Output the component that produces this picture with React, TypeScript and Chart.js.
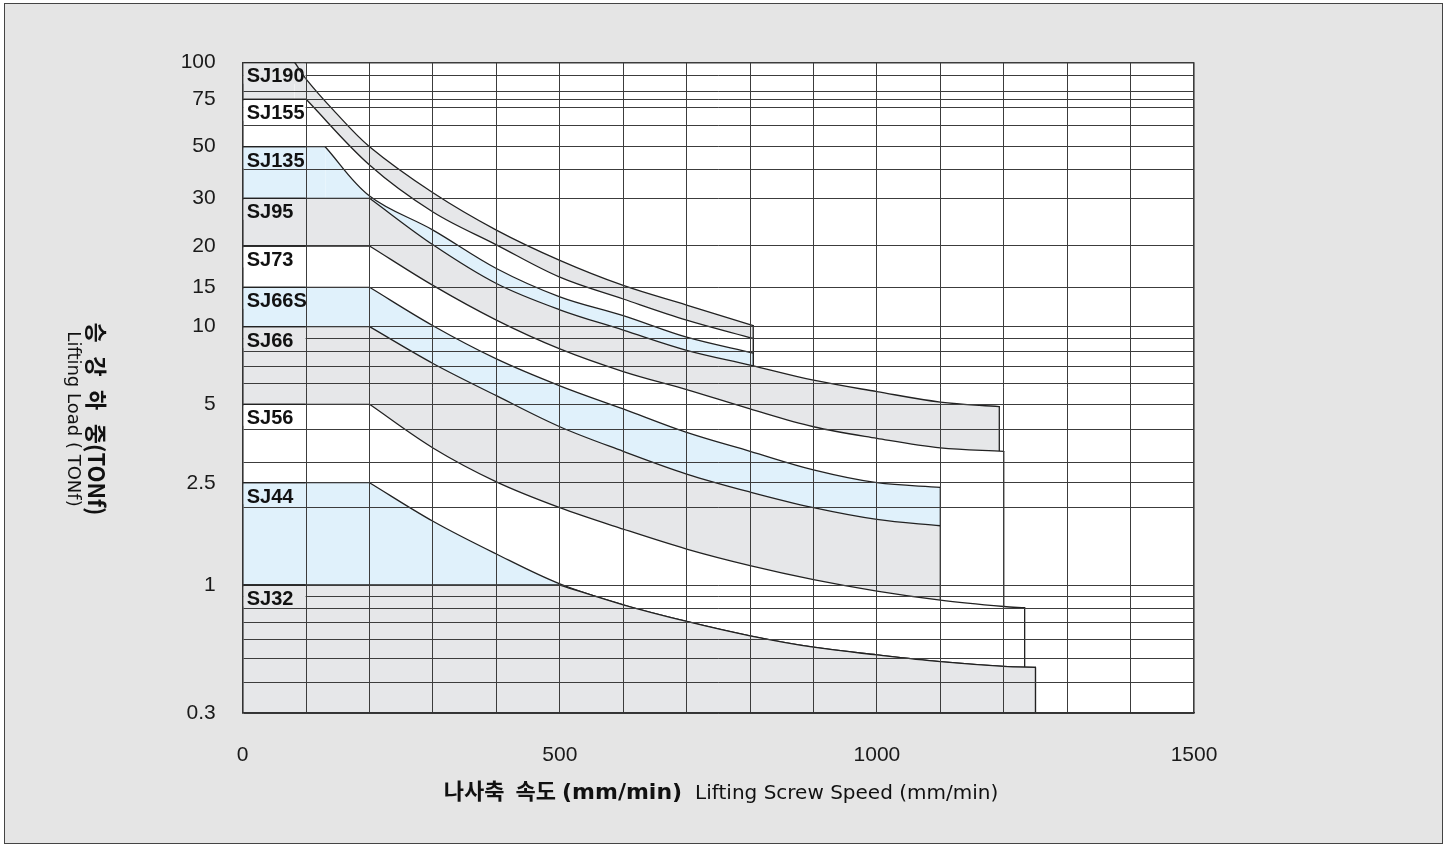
import React, { useEffect, useRef } from 'react';
import { Chart, registerables, LinearScale } from 'chart.js';

// Models, from the largest jack down, and the load each one is rated for
const models = ['SJ190', 'SJ155', 'SJ135', 'SJ95', 'SJ73', 'SJ66S', 'SJ66', 'SJ56', 'SJ44', 'SJ32'];
const capacities = [100, 75, 50, 30, 20, 15, 10, 5, 2.5, 1];

// Limit line of each model: [screw speed mm/min, load TONf].
// The first two points are the flat rated-load part, the rest the falling curve.
const sj190Curve = [[0, 100], [82, 100], [100, 87.8], [143, 68.4], [200, 50], [300, 31.7], [400, 22.9], [500, 18.1], [600, 15.2], [700, 12.5], [805, 10.1]];
const sj155Curve = [[0, 75], [100, 75], [200, 41.7], [300, 26.7], [400, 20.2], [500, 16.1], [600, 13.3], [700, 10.7], [805, 9.0]];
const sj135Curve = [[0, 50], [130, 50], [200, 30.7], [300, 22.9], [400, 17.1], [500, 13.6], [600, 11.2], [700, 9.1], [805, 7.9]];
const sj95Curve = [[0, 30], [200, 30], [300, 20.2], [400, 15.4], [500, 11.9], [600, 9.7], [700, 8.1], [800, 7.1], [900, 6.2], [1000, 5.6], [1100, 5.1], [1193, 4.9]];
const sj73Curve = [[0, 20], [200, 20], [300, 15.2], [400, 10.7], [500, 8.2], [600, 6.7], [700, 5.7], [800, 4.8], [900, 4.1], [1000, 3.7], [1100, 3.4], [1200, 3.3]];
const sj66sCurve = [[0, 15], [200, 15], [300, 10.1], [400, 7.5], [500, 5.9], [600, 4.8], [700, 3.9], [800, 3.3], [900, 2.8], [1000, 2.5], [1100, 2.4]];
const sj66Curve = [[0, 10], [200, 10], [300, 7.2], [400, 5.4], [500, 4.1], [600, 3.3], [700, 2.7], [800, 2.3], [900, 2.0], [1000, 1.8], [1100, 1.7]];
const sj56Curve = [[0, 5], [200, 5], [300, 3.4], [400, 2.52], [500, 2.0], [600, 1.65], [700, 1.38], [800, 1.19], [900, 1.05], [1000, 0.945], [1100, 0.868], [1200, 0.817], [1233, 0.808]];
const sj44Curve = [[0, 2.5], [200, 2.5], [300, 1.77], [400, 1.32], [500, 1.01], [600, 0.83], [700, 0.71], [800, 0.62], [900, 0.557], [1000, 0.518], [1100, 0.486], [1200, 0.465], [1250, 0.461]];
const sj32Curve = [[0, 1], [500, 1], [600, 0.83], [700, 0.71], [800, 0.62], [900, 0.557], [1000, 0.518], [1100, 0.486], [1200, 0.465], [1250, 0.461]];

const curves = [sj190Curve, sj155Curve, sj135Curve, sj95Curve, sj73Curve, sj66sCurve, sj66Curve, sj56Curve, sj44Curve, sj32Curve];

// Axis ticks
const speedTickLabels = [0, 500, 1000, 1500];
const loadTickLabels = [100, 75, 50, 30, 20, 15, 10, 5, 2.5, 1, 0.3];
const loadGridLines = [100, 90, 80, 75, 70, 60, 50, 40, 30, 20, 15, 10, 9, 8, 7, 6, 5, 4, 3, 2.5, 2, 1, 0.9, 0.8, 0.7, 0.6, 0.5, 0.4, 0.3];

// The load axis is hand drawn: each labelled value sits at its own share of
// the plot height (from the top), with log spacing in between
const knotShares = [0, 0.0569, 0.1297, 0.209, 0.2823, 0.3458, 0.4063, 0.5256, 0.6461, 0.8033, 1];

const GRAY = '#e6e7e9';
const BLUE = '#e0f1fb';
const WHITE = '#ffffff';
const bandFills = [GRAY, WHITE, BLUE, GRAY, WHITE, BLUE, GRAY, WHITE, BLUE, GRAY];
const GRID = '#3c3c3c';
const LINE = '#222';
const INK = '#1a1a1a';

function shareForLoad(v: number) {
  const k = loadTickLabels;
  if (v >= k[0]) return knotShares[0];
  for (let i = 1; i < k.length; i++) {
    if (v >= k[i]) {
      const t = Math.log(k[i - 1] / v) / Math.log(k[i - 1] / k[i]);
      return knotShares[i - 1] + t * (knotShares[i] - knotShares[i - 1]);
    }
  }
  return 1;
}

function loadForShare(s: number) {
  const k = loadTickLabels;
  for (let i = 1; i < k.length; i++) {
    if (s <= knotShares[i]) {
      const t = (s - knotShares[i - 1]) / (knotShares[i] - knotShares[i - 1]);
      return k[i - 1] * Math.pow(k[i] / k[i - 1], t);
    }
  }
  return k[k.length - 1];
}

class LoadScale extends LinearScale {
  static id = 'load';
  static defaults = {};

  getPixelForValue(value: number) {
    if (value === null || value === undefined || isNaN(value)) return NaN;
    return this.getPixelForDecimal(1 - shareForLoad(value));
  }

  getValueForPixel(pixel: number) {
    return loadForShare(1 - this.getDecimalForPixel(pixel));
  }
}

Chart.register(...registerables, LoadScale);

const FONT = '"Liberation Sans", Arial, sans-serif';
const KR_BOLD = 'bold 22px "Noto Sans CJK KR", sans-serif';

const decorPlugin = {
  id: 'decor',
  beforeDraw(chart: any) {
    const { ctx, chartArea: a } = chart;
    ctx.save();
    ctx.fillStyle = '#fff';
    ctx.fillRect(a.left, a.top, a.width, a.height);
    ctx.restore();
  },
  afterDraw(chart: any) {
    const { ctx, chartArea: a, scales } = chart;
    const x = scales.x;
    const y = scales.y;
    const colLeft = x.getPixelForValue(0);
    const colRight = x.getPixelForValue(100);

    // model names in the first column, on a patch of their band colour
    ctx.save();
    ctx.font = `bold 20px ${FONT}`;
    ctx.textBaseline = 'alphabetic';
    ctx.textAlign = 'left';
    models.forEach((name, i) => {
      const top = y.getPixelForValue(capacities[i]);
      ctx.fillStyle = bandFills[i];
      ctx.fillRect(colLeft + 1, top + 1.5, colRight - colLeft - 1.5, 20);
      ctx.fillStyle = '#111';
      ctx.fillText(name, colLeft + 4, top + 20);
    });
    // limit lines stay on top of the name patches
    ctx.beginPath();
    ctx.rect(colLeft + 1, a.top, colRight - colLeft - 1.5, a.height);
    ctx.clip();
    chart.data.datasets.forEach((_: any, i: number) => {
      const line = chart.getDatasetMeta(i).dataset;
      if (line) line.draw(ctx, a);
    });
    ctx.restore();

    // y title, turned a quarter clockwise
    ctx.save();
    ctx.translate(96, 419);
    ctx.rotate(Math.PI / 2);
    ctx.fillStyle = '#111';
    ctx.font = KR_BOLD;
    ctx.textBaseline = 'middle';
    ctx.textAlign = 'left';
    const yParts = ['승', '강', '하', '중(TONf)'];
    const yGap = 13.5;
    const yWidths = yParts.map((p) => ctx.measureText(p).width);
    let cx = -(yWidths.reduce((s, w) => s + w, 0) + yGap * (yParts.length - 1)) / 2;
    yParts.forEach((p, i) => {
      ctx.fillText(p, cx, 0);
      cx += yWidths[i] + yGap;
    });
    ctx.font = '18px "DejaVu Sans", sans-serif';
    ctx.textAlign = 'center';
    ctx.textBaseline = 'alphabetic';
    ctx.fillText('Lifting Load ( TONf)', 0, 28.5);
    ctx.restore();

    // x title, bold Korean then plain English
    ctx.save();
    ctx.fillStyle = '#111';
    ctx.textBaseline = 'alphabetic';
    ctx.textAlign = 'left';
    const xParts = [
      { text: '나사축', font: KR_BOLD, gap: 11 },
      { text: '속도', font: KR_BOLD, gap: 6 },
      { text: '(mm/min)', font: 'bold 22px "DejaVu Sans", sans-serif', gap: 13 },
      { text: 'Lifting Screw Speed (mm/min)', font: '20px "DejaVu Sans", sans-serif', gap: 0 },
    ];
    const xWidths = xParts.map((p) => {
      ctx.font = p.font;
      return ctx.measureText(p.text).width;
    });
    let tx = 721 - xParts.reduce((s, p, i) => s + xWidths[i] + p.gap, 0) / 2;
    xParts.forEach((p, i) => {
      ctx.font = p.font;
      ctx.fillText(p.text, tx, 799);
      tx += xWidths[i] + p.gap;
    });
    ctx.restore();
  },
};

const LiftingChart: React.FC = () => {
  const chartRef = useRef<HTMLCanvasElement>(null);
  const chartInstance = useRef<Chart | null>(null);

  useEffect(() => {
    if (!chartRef.current) return;
    if (chartInstance.current) chartInstance.current.destroy();

    const loadMin = loadTickLabels[loadTickLabels.length - 1];

    // Each model is painted as: flat rated part, smoothed curve, end edge.
    // Painted largest first so every band covers the one above it.
    const painted: any[] = [];
    models.forEach((name, i) => {
      const pts = curves[i].map(([sx, sy]) => ({ x: sx, y: sy }));
      const end = pts[pts.length - 1];
      const base = {
        backgroundColor: bandFills[i],
        borderColor: LINE,
        borderWidth: 1.3,
        borderCapStyle: 'round',
        pointRadius: 0,
      };
      painted.push({ ...base, label: `${name} rated`, data: pts.slice(0, 2), fill: 'start', tension: 0 });
      painted.push({ ...base, label: name, data: pts.slice(1), fill: 'start', tension: 0.35 });
      painted.push({ ...base, label: `${name} end`, data: [end, { x: end.x, y: loadMin }], fill: false, tension: 0 });
    });
    // Chart.js paints the last dataset first
    const datasets = painted.reverse();

    const ctx = chartRef.current.getContext('2d');
    if (!ctx) return;

    chartInstance.current = new Chart(ctx, {
      type: 'line',
      data: { datasets },
      options: {
        responsive: false,
        animation: false,
        devicePixelRatio: 1,
        events: [],
        layout: { padding: { left: 0, top: 62.3, right: 1449 - 1194, bottom: 0 } },
        plugins: {
          legend: { display: false },
          tooltip: { enabled: false },
        },
        scales: {
          x: {
            type: 'linear',
            min: 0,
            max: 1500,
            ticks: {
              stepSize: 100,
              autoSkip: false,
              maxRotation: 0,
              padding: 30,
              color: INK,
              font: { family: FONT, size: 21 },
              callback: (v: any) => (speedTickLabels.includes(Number(v)) ? String(v) : ''),
            },
            grid: {
              z: 1,
              color: GRID,
              drawTicks: false,
              lineWidth: (c: any) => (c.tick && c.tick.value === 1500 ? 1.6 : 1),
            },
            border: { z: 2, color: '#333', width: 1.6 },
            afterFit: (s: any) => {
              s.height = 844 - 713;
            },
          },
          y: {
            type: 'load',
            min: loadMin,
            max: loadTickLabels[0],
            afterBuildTicks: (s: any) => {
              s.ticks = loadGridLines.map((value) => ({ value }));
            },
            ticks: {
              autoSkip: false,
              padding: 27,
              color: INK,
              font: { family: FONT, size: 21 },
              callback: (v: any) => (loadTickLabels.includes(Number(v)) ? String(v) : ''),
            },
            grid: {
              z: 1,
              color: GRID,
              drawTicks: false,
              lineWidth: (c: any) => (c.tick && c.tick.value === 100 ? 1.6 : 1),
            },
            border: { z: 2, color: '#333', width: 1.6 },
            afterFit: (s: any) => {
              s.width = 242.7;
            },
          },
        } as any,
      },
      plugins: [decorPlugin],
    });

    return () => {
      if (chartInstance.current) {
        chartInstance.current.destroy();
        chartInstance.current = null;
      }
    };
  }, []);

  return <canvas ref={chartRef} width={1449} height={844} style={{ position: 'absolute', left: 0, top: 0 }} />;
};

export default function App() {
  return (
    <div style={{ position: 'fixed', left: 0, top: 0, width: 1449, height: 844, background: '#fff' }}>
      <div
        style={{
          position: 'absolute',
          left: 4,
          top: 3,
          width: 1439,
          height: 841,
          boxSizing: 'border-box',
          border: '1.5px solid #444',
          background: '#e5e5e5',
        }}
      />
      <LiftingChart />
    </div>
  );
}
